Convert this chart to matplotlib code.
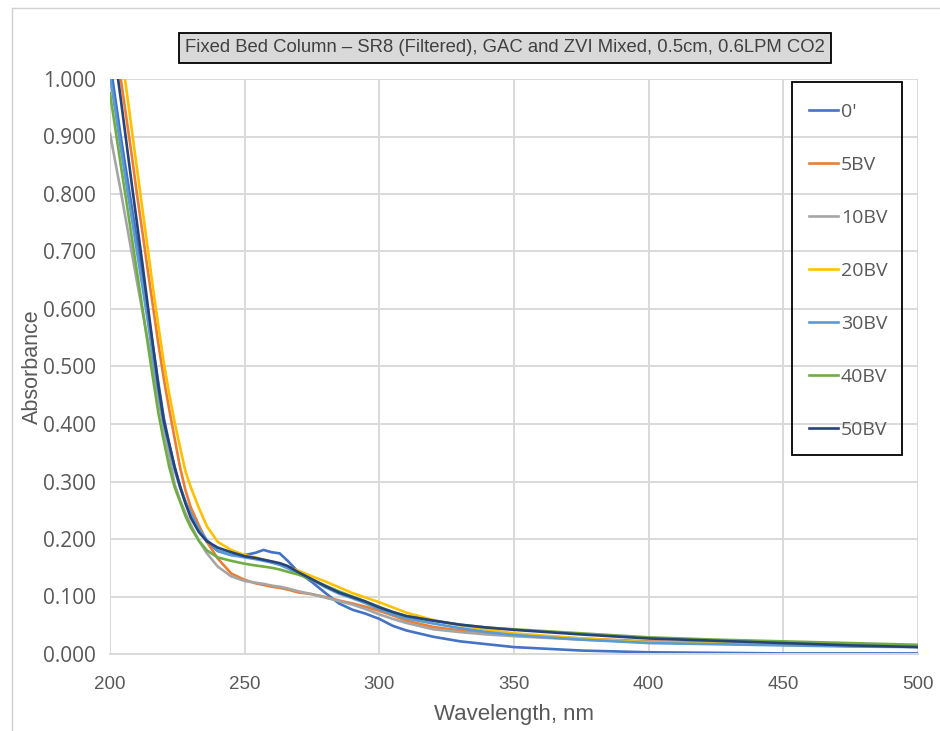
import matplotlib
matplotlib.use("Agg")
import matplotlib.pyplot as plt
from matplotlib.lines import Line2D
from matplotlib.patches import Rectangle
from matplotlib.ticker import FormatStrFormatter, MultipleLocator

# Wavelength grid (nm)
wavelength = [200, 202, 204, 206, 208, 210, 212, 214, 216, 218, 220, 222, 224, 226,
              228, 230, 233, 236, 240, 245, 250, 254, 257, 260, 263, 266, 270, 275,
              280, 285, 290, 295, 300, 305, 310, 320, 330, 340, 350, 375, 400, 425,
              450, 475, 500]

series_labels = ["0'", "5BV", "10BV", "20BV", "30BV", "40BV", "50BV"]

abs_0 = [1.03, 0.965, 0.90, 0.84, 0.78, 0.72, 0.66, 0.597, 0.533, 0.47, 0.41, 0.365,
         0.325, 0.292, 0.265, 0.242, 0.215, 0.195, 0.179, 0.172, 0.172, 0.176, 0.181,
         0.177, 0.175, 0.162, 0.142, 0.125, 0.106, 0.088, 0.077, 0.070, 0.061, 0.049,
         0.041, 0.030, 0.022, 0.017, 0.012, 0.006, 0.003, 0.002, 0.001, 0.001, 0.001]
abs_5 = [1.13, 1.065, 1.0, 0.935, 0.87, 0.80, 0.735, 0.668, 0.603, 0.538, 0.478,
         0.425, 0.375, 0.325, 0.285, 0.255, 0.224, 0.195, 0.166, 0.140, 0.129, 0.123,
         0.120, 0.117, 0.115, 0.112, 0.107, 0.104, 0.099, 0.093, 0.088, 0.082, 0.075,
         0.067, 0.058, 0.047, 0.041, 0.037, 0.034, 0.027, 0.022, 0.020, 0.018, 0.016,
         0.014]
abs_10 = [0.905, 0.855, 0.805, 0.752, 0.70, 0.648, 0.597, 0.546, 0.495, 0.443, 0.392,
          0.345, 0.295, 0.268, 0.245, 0.225, 0.197, 0.175, 0.152, 0.135, 0.127, 0.124,
          0.122, 0.119, 0.117, 0.114, 0.109, 0.104, 0.098, 0.092, 0.086, 0.078, 0.069,
          0.061, 0.054, 0.043, 0.038, 0.034, 0.031, 0.025, 0.021, 0.019, 0.017, 0.015,
          0.013]
abs_20 = [1.19, 1.125, 1.055, 0.985, 0.915, 0.845, 0.775, 0.706, 0.635, 0.57, 0.506,
          0.452, 0.403, 0.36, 0.318, 0.29, 0.254, 0.222, 0.195, 0.181, 0.172, 0.168,
          0.164, 0.161, 0.156, 0.151, 0.145, 0.135, 0.126, 0.116, 0.106, 0.098, 0.090,
          0.081, 0.072, 0.059, 0.050, 0.042, 0.036, 0.027, 0.020, 0.018, 0.016, 0.014,
          0.013]
abs_30 = [1.005, 0.944, 0.88, 0.82, 0.76, 0.70, 0.64, 0.58, 0.515, 0.455, 0.40, 0.36,
          0.32, 0.29, 0.265, 0.245, 0.218, 0.198, 0.18, 0.172, 0.168, 0.165, 0.162,
          0.159, 0.155, 0.149, 0.140, 0.129, 0.116, 0.105, 0.097, 0.088, 0.078, 0.069,
          0.062, 0.053, 0.045, 0.038, 0.033, 0.025, 0.019, 0.017, 0.015, 0.013, 0.012]
abs_40 = [0.975, 0.913, 0.85, 0.79, 0.727, 0.665, 0.603, 0.54, 0.478, 0.418, 0.37,
          0.325, 0.29, 0.265, 0.24, 0.22, 0.197, 0.18, 0.168, 0.162, 0.157, 0.154,
          0.152, 0.150, 0.147, 0.143, 0.138, 0.129, 0.119, 0.109, 0.100, 0.091, 0.082,
          0.073, 0.066, 0.058, 0.051, 0.046, 0.043, 0.036, 0.029, 0.025, 0.022, 0.019,
          0.016]
abs_50 = [1.11, 1.035, 0.965, 0.893, 0.82, 0.75, 0.68, 0.607, 0.535, 0.465, 0.405,
          0.365, 0.325, 0.291, 0.262, 0.237, 0.212, 0.196, 0.185, 0.177, 0.170, 0.167,
          0.164, 0.161, 0.158, 0.153, 0.142, 0.130, 0.118, 0.107, 0.099, 0.091, 0.081,
          0.073, 0.066, 0.058, 0.051, 0.046, 0.042, 0.034, 0.027, 0.023, 0.019, 0.015,
          0.012]

series_values = [abs_0, abs_5, abs_10, abs_20, abs_30, abs_40, abs_50]
series_colors = ["#4472C4", "#ED7D31", "#A5A5A5", "#FFC000", "#5B9BD5", "#70AD47", "#264478"]

title_text = "Fixed Bed Column \u2013 SR8 (Filtered), GAC and ZVI Mixed, 0.5cm, 0.6LPM CO2"

narrow = ["Liberation Sans", "DejaVu Sans"]
wide = ["Open Sans", "DejaVu Sans"]
text_gray = "#595959"

W, H = 940, 731
fig = plt.figure(figsize=(W / 100, H / 100), dpi=100)
ax = fig.add_axes([110 / W, 1 - 654 / H, 808 / W, 575 / H])

for vals, lab, col in zip(series_values, series_labels, series_colors):
    ax.plot(wavelength, vals, color=col, lw=1.9, label=lab, solid_joinstyle="round",
            clip_on=True)

ax.set_xlim(200, 500)
ax.set_ylim(0, 1.0)
ax.xaxis.set_major_locator(MultipleLocator(50))
ax.yaxis.set_major_locator(MultipleLocator(0.1))
ax.yaxis.set_major_formatter(FormatStrFormatter("%.3f"))
ax.grid(True, color="#D9D9D9", lw=1.4)
ax.set_axisbelow(True)
for side in ["top", "right", "left"]:
    ax.spines[side].set_visible(False)
ax.spines["bottom"].set_color("#D9D9D9")
ax.spines["bottom"].set_linewidth(1.4)
ax.tick_params(axis="y", length=0, pad=10)
ax.tick_params(axis="x", length=0, pad=16)
for t in ax.get_yticklabels():
    t.set_fontfamily(wide)
    t.set_fontsize(15)
    t.set_color(text_gray)
for t in ax.get_xticklabels():
    t.set_fontfamily(narrow)
    t.set_fontsize(13.5)
    t.set_color(text_gray)

ax.set_xlabel("Wavelength, nm", fontsize=16, family=narrow, color=text_gray, labelpad=8)
ax.set_ylabel("Absorbance", fontsize=15.5, family=narrow, color=text_gray, labelpad=0)

fig.text(505 / W, 1 - 48 / H, title_text, ha="center", va="center",
         fontsize=13.3, family=narrow, color="#404040",
         bbox=dict(boxstyle="square,pad=0.35", fc="#D9D9D9", ec="black", lw=1.3))

# legend entries (no frame) plus a separate outline box
leg = ax.legend(loc="upper left", bbox_to_anchor=((809 - 110) / 808, 1 - (103 - 79) / 575),
                frameon=False, prop={"family": wide, "size": 14}, labelspacing=1.8,
                handlelength=1.5, handletextpad=0.15, borderpad=0, borderaxespad=0)
for t in leg.get_texts():
    t.set_color(text_gray)
fig.add_artist(Rectangle((792 / W, 1 - 455 / H), 110 / W, 373 / H, fill=False,
                         ec="black", lw=1.3, transform=fig.transFigure, zorder=5))

# thin outer chart-area border (left and top edges)
fig.add_artist(Line2D([11.5 / W, 11.5 / W], [0, 1 - 7.5 / H], color="#D0D0D0",
                      lw=1, transform=fig.transFigure))
fig.add_artist(Line2D([11.5 / W, 1], [1 - 7.5 / H, 1 - 7.5 / H], color="#D0D0D0",
                      lw=1, transform=fig.transFigure))

fig.savefig("out.png", dpi=100)
